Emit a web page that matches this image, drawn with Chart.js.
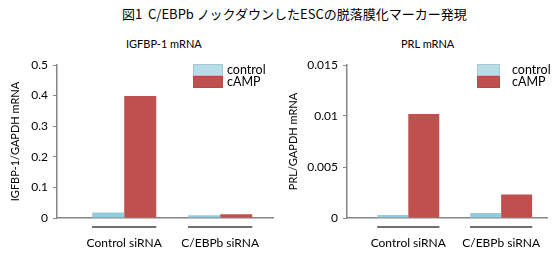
<!DOCTYPE html>
<html>
<head>
<meta charset="utf-8">
<script src="https://cdn.jsdelivr.net/npm/chart.js@4"></script>
<style>
  html, body { margin: 0; padding: 0; background: #fff; }
  #wrap { position: relative; width: 559px; height: 254px; overflow: hidden; font-family: Lato, sans-serif; color: #000; }
  .title { position: absolute; white-space: nowrap; }
  #mainTitle { left: 122px; top: 5px; font-family: "Noto Sans CJK JP", sans-serif; font-size: 13px; line-height: 18px; }
  #subLeft { left: 126px; top: 37px; font-size: 11px; line-height: 14px; }
  #subRight { left: 401px; top: 37px; font-size: 11px; line-height: 14px; }
  .box { position: absolute; top: 30px; height: 224px; }
  #boxLeft { left: 0; width: 280px; }
  #boxRight { left: 280px; width: 279px; }
</style>
</head>
<body>
<div id="wrap">
  <div class="title" id="mainTitle">図1&nbsp;&nbsp;C/EBPb ノックダウンしたESCの脱落膜化マーカー発現</div>
  <div class="title" id="subLeft">IGFBP-1 mRNA</div>
  <div class="title" id="subRight">PRL mRNA</div>
  <div class="box" id="boxLeft"><canvas id="chartLeft"></canvas></div>
  <div class="box" id="boxRight"><canvas id="chartRight"></canvas></div>
</div>
<script>
// データ
const categories = ['Control siRNA', 'C/EBPb siRNA'];
const seriesNames = ['control', 'cAMP'];
const igfbpControl = [0.018, 0.009];
const igfbpCamp = [0.399, 0.012];
const prlControl = [0.0003, 0.0005];
const prlCamp = [0.0102, 0.0023];
const igfbpTicks = [0, 0.1, 0.2, 0.3, 0.4, 0.5];
const prlTicks = [0, 0.005, 0.01, 0.015];

const barColors = ['#93cddd', '#c0504d'];
const legendColors = ['#b7dee8', '#c0504d'];
const axisColor = '#868686';

// 各グループの下線
const underlinePlugin = {
    id: 'underline',
    afterDraw(chart) {
        const ctx = chart.ctx;
        const x = chart.scales.x;
        const y0 = chart.chartArea.bottom + 9;
        ctx.save();
        ctx.strokeStyle = '#404040';
        ctx.lineWidth = 1.5;
        categories.forEach((c, i) => {
            ctx.beginPath();
            ctx.moveTo(x.getPixelForValue(i + 1 - 0.335), y0);
            ctx.lineTo(x.getPixelForValue(i + 1 + 0.335), y0);
            ctx.stroke();
        });
        ctx.restore();
    }
};

// 凡例(グラフ内、縦並び)
const boxLegendPlugin = {
    id: 'boxLegend',
    afterDraw(chart, args, opts) {
        const ctx = chart.ctx;
        ctx.save();
        ctx.font = '12.5px Lato, sans-serif';
        ctx.textBaseline = 'middle';
        chart.data.datasets.forEach((ds, i) => {
            const top = opts.y + i * opts.h;
            ctx.fillStyle = legendColors[i];
            ctx.fillRect(opts.x, top, opts.w, opts.h);
            ctx.strokeStyle = i === 0 ? '#9cc3cd' : '#b04744';
            ctx.lineWidth = 0.75;
            ctx.strokeRect(opts.x + 0.5, top + 0.5, opts.w - 1, opts.h - 1);
            ctx.fillStyle = '#000';
            ctx.fillText(ds.label, opts.textX, top + opts.h / 2);
        });
        ctx.restore();
    }
};

function makeChart(canvasId, controlVals, campVals, ticks, yTitle, cfg) {
    const ctx = document.getElementById(canvasId).getContext('2d');
    return new Chart(ctx, {
        type: 'bar',
        data: {
            datasets: [
                {
                    label: seriesNames[0],
                    data: categories.map((c, i) => ({ x: i + 1, y: controlVals[i] })),
                    backgroundColor: barColors[0]
                },
                {
                    label: seriesNames[1],
                    data: categories.map((c, i) => ({ x: i + 1, y: campVals[i] })),
                    backgroundColor: barColors[1]
                }
            ]
        },
        options: {
            responsive: true,
            maintainAspectRatio: false,
            animation: false,
            barPercentage: 1,
            categoryPercentage: 0.667,
            layout: { padding: { top: 35, right: cfg.padRight, bottom: 0, left: 0 } },
            plugins: {
                legend: { display: false },
                tooltip: { enabled: false },
                boxLegend: cfg.legend
            },
            scales: {
                x: {
                    type: 'linear',
                    min: cfg.xMin,
                    max: cfg.xMax,
                    offset: false,
                    afterBuildTicks(scale) {
                        scale.ticks = categories.map((c, i) => ({ value: i + 1 }));
                    },
                    afterFit(scale) {
                        scale.height = 36;
                    },
                    grid: { display: false, drawTicks: false },
                    border: { display: true, color: axisColor, width: 1.5 },
                    ticks: {
                        padding: 18,
                        maxRotation: 0,
                        autoSkip: false,
                        color: '#000',
                        font: { family: 'Lato', size: 12 },
                        callback: (v) => categories[v - 1]
                    }
                },
                y: {
                    min: ticks[0],
                    max: ticks[ticks.length - 1],
                    afterBuildTicks(scale) {
                        scale.ticks = ticks.map(v => ({ value: v }));
                    },
                    afterFit(scale) {
                        scale.width = cfg.yWidth;
                    },
                    grid: {
                        drawOnChartArea: false,
                        drawTicks: true,
                        tickLength: 4,
                        color: axisColor
                    },
                    border: { display: true, color: axisColor, width: 1.5 },
                    ticks: {
                        padding: 5,
                        color: '#000',
                        font: { family: 'Lato', size: 12 },
                        callback: (v) => String(v)
                    },
                    title: {
                        display: true,
                        text: yTitle,
                        color: '#000',
                        font: { family: 'Lato', size: 11 },
                        padding: { top: cfg.titlePad, bottom: 0 }
                    }
                }
            }
        },
        plugins: [underlinePlugin, boxLegendPlugin]
    });
}

window.addEventListener('load', () => {
    makeChart('chartLeft', igfbpControl, igfbpCamp, igfbpTicks, 'IGFBP-1/GAPDH mRNA', {
        xMin: 0.3, xMax: 2.55, yWidth: 57, padRight: 7, titlePad: 8.4,
        legend: { x: 193, y: 34, w: 30, h: 12, textX: 227 }
    });
    makeChart('chartRight', prlControl, prlCamp, prlTicks, 'PRL/GAPDH mRNA', {
        xMin: 0.34, xMax: 2.5, yWidth: 67, padRight: 4, titlePad: 6.4,
        legend: { x: 197, y: 34, w: 23, h: 12, textX: 232 }
    });
});
</script>
</body>
</html>
